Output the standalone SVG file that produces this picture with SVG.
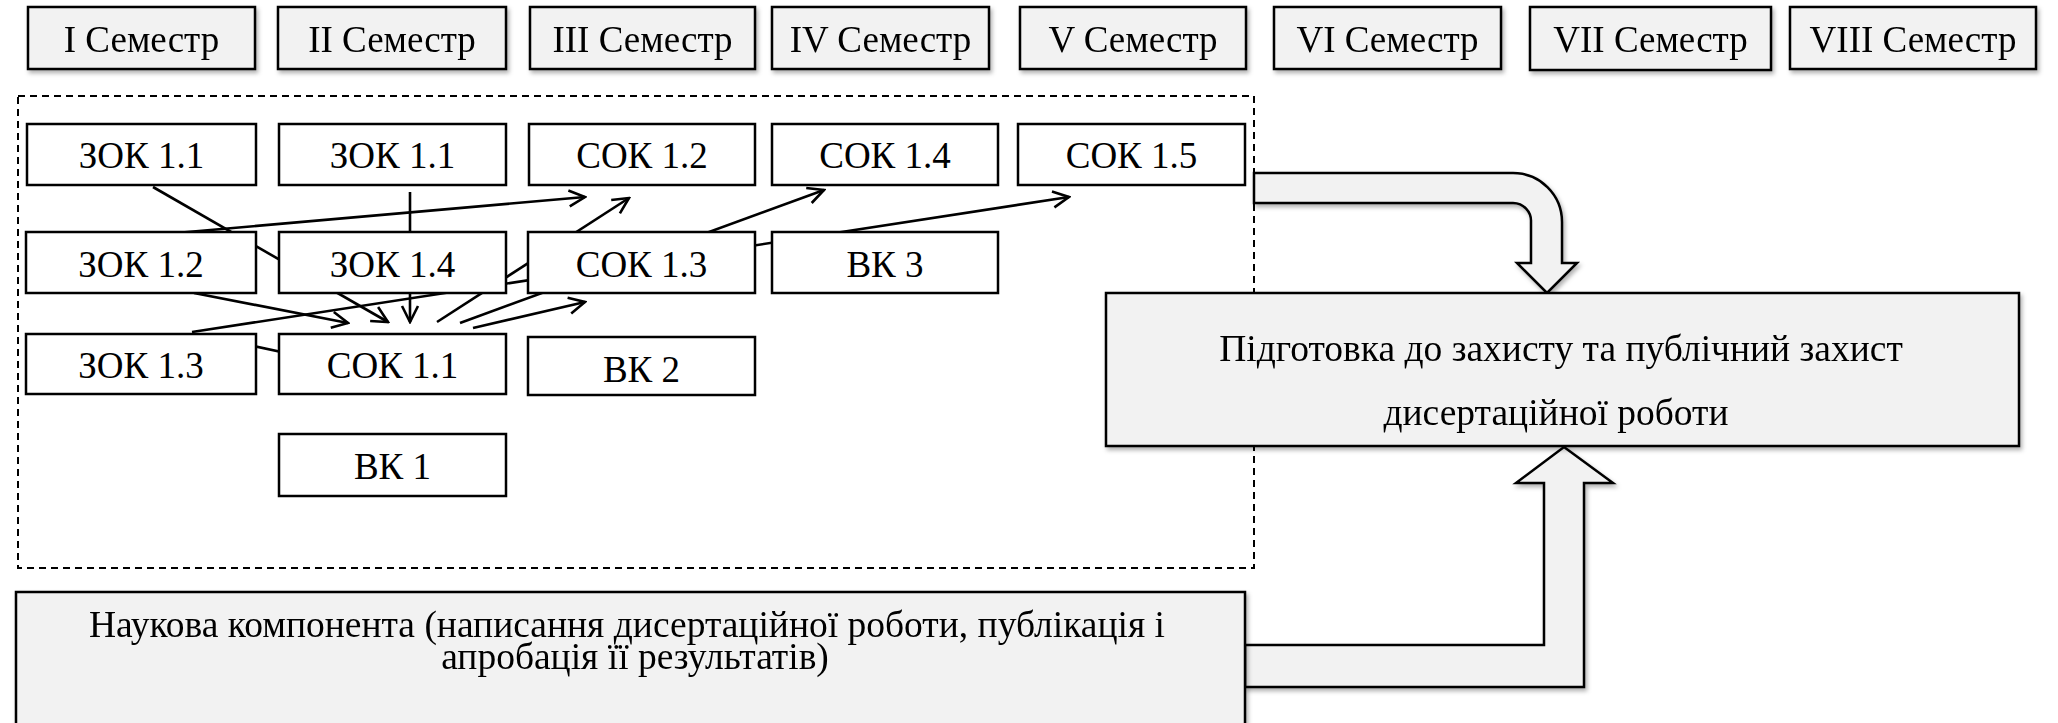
<svg xmlns="http://www.w3.org/2000/svg" width="2058" height="723" viewBox="0 0 2058 723">
<defs>
<style>
.sem rect{fill:#f2f2f2;stroke:#000;stroke-width:2.5}
.nd rect{fill:#fff;stroke:#000;stroke-width:2.5}
.big rect{fill:#f2f2f2;stroke:#000;stroke-width:2.5}
text{font-family:"Liberation Serif","Times New Roman",serif;font-size:37px;fill:#000;text-anchor:middle}
.big text{font-size:37.5px}
.cn line{stroke:#000;stroke-width:2.6;fill:none}
.blk{fill:#f2f2f2;stroke:#000;stroke-width:2.5;stroke-linejoin:miter}
.dash{fill:none;stroke:#000;stroke-width:2;stroke-dasharray:7 5}
</style>
<marker id="ah" markerUnits="userSpaceOnUse" viewBox="0 0 20 20" markerWidth="20" markerHeight="20" refX="18" refY="10" orient="auto">
<path d="M2,2 L18,10 L2,18" fill="none" stroke="#000" stroke-width="2.6" stroke-linejoin="miter"/>
</marker>
<filter id="sh" x="-10%" y="-10%" width="125%" height="140%">
<feDropShadow dx="2" dy="3" stdDeviation="2" flood-color="#000" flood-opacity="0.3"/>
</filter>
</defs>

<rect width="2058" height="723" fill="#fff"/>

<g id="semesters" filter="url(#sh)">
<g id="sem1" class="sem"><rect x="28" y="7" width="227" height="62"/><text x="141.5" y="52">I Семестр</text></g>
<g id="sem2" class="sem"><rect x="278" y="7" width="228" height="62"/><text x="392" y="52">II Семестр</text></g>
<g id="sem3" class="sem"><rect x="530" y="7" width="225" height="62"/><text x="642.5" y="52">III Семестр</text></g>
<g id="sem4" class="sem"><rect x="772" y="7" width="217" height="62"/><text x="880.5" y="52">IV Семестр</text></g>
<g id="sem5" class="sem"><rect x="1020" y="7" width="226" height="62"/><text x="1133" y="52">V Семестр</text></g>
<g id="sem6" class="sem"><rect x="1274" y="7" width="227" height="62"/><text x="1387.5" y="52">VI Семестр</text></g>
<g id="sem7" class="sem"><rect x="1530" y="7" width="241" height="63"/><text x="1650.5" y="52">VII Семестр</text></g>
<g id="sem8" class="sem"><rect x="1790" y="7" width="246" height="62"/><text x="1913" y="52">VIII Семестр</text></g>
</g>

<rect id="frame" class="dash" x="18" y="96" width="1236" height="472"/>

<g id="block-arrows" filter="url(#sh)">
<path id="arrow-top" class="blk" d="M1254,173 L1513,173 A49,49 0 0 1 1562,222 L1562,263 L1577,263 L1547,293 L1517,263 L1531,263 L1531,222 A18,18 0 0 0 1513,203 L1254,203 Z"/>
<path id="arrow-bottom" class="blk" d="M1245,645 L1544,645 L1544,483 L1516,483 L1564,447 L1613,483 L1584,483 L1584,687 L1245,687 Z"/>
</g>

<g id="connectors" class="cn">
<line x1="153" y1="187" x2="388" y2="322" marker-end="url(#ah)"/>
<line x1="176" y1="233" x2="585" y2="197" marker-end="url(#ah)"/>
<line x1="410" y1="192" x2="410" y2="322" marker-end="url(#ah)"/>
<line x1="194" y1="293" x2="348" y2="323" marker-end="url(#ah)"/>
<line x1="192" y1="332" x2="1069" y2="197" marker-end="url(#ah)"/>
<line x1="230" y1="341" x2="300" y2="356"/>
<line x1="437" y1="322" x2="629" y2="198" marker-end="url(#ah)"/>
<line x1="473" y1="328" x2="585" y2="302" marker-end="url(#ah)"/>
<line x1="460" y1="323" x2="824" y2="190" marker-end="url(#ah)"/>
</g>

<g id="nodes">
<g id="zok11a" class="nd"><rect x="27" y="124" width="229" height="61"/><text x="141.5" y="168">ЗОК 1.1</text></g>
<g id="zok11b" class="nd"><rect x="279" y="124" width="227" height="61"/><text x="392.5" y="168">ЗОК 1.1</text></g>
<g id="sok12" class="nd"><rect x="529" y="124" width="226" height="61"/><text x="642" y="168">СОК 1.2</text></g>
<g id="sok14" class="nd"><rect x="772" y="124" width="226" height="61"/><text x="885" y="168">СОК 1.4</text></g>
<g id="sok15" class="nd"><rect x="1018" y="124" width="227" height="61"/><text x="1131.5" y="168">СОК 1.5</text></g>
<g id="zok12" class="nd"><rect x="26" y="232" width="230" height="61"/><text x="141" y="277">ЗОК 1.2</text></g>
<g id="zok14" class="nd"><rect x="279" y="232" width="227" height="61"/><text x="392.5" y="277">ЗОК 1.4</text></g>
<g id="sok13" class="nd"><rect x="528" y="232" width="227" height="61"/><text x="641.5" y="277">СОК 1.3</text></g>
<g id="vk3" class="nd"><rect x="772" y="232" width="226" height="61"/><text x="885" y="277">ВК 3</text></g>
<g id="zok13" class="nd"><rect x="26" y="334" width="230" height="60"/><text x="141" y="378">ЗОК 1.3</text></g>
<g id="sok11" class="nd"><rect x="279" y="334" width="227" height="60"/><text x="392.5" y="378">СОК 1.1</text></g>
<g id="vk2" class="nd"><rect x="528" y="337" width="227" height="58"/><text x="641.5" y="382">ВК 2</text></g>
<g id="vk1" class="nd"><rect x="279" y="434" width="227" height="62"/><text x="392.5" y="479">ВК 1</text></g>
</g>

<g id="defense" class="big" filter="url(#sh)">
<rect x="1106" y="293" width="913" height="153"/>
<text x="1561" y="361">Підготовка до захисту та публічний захист</text>
<text x="1556" y="425">дисертаційної роботи</text>
</g>

<g id="science" class="big" filter="url(#sh)">
<rect x="16" y="592" width="1229" height="145"/>
<text x="627" y="637">Наукова компонента (написання дисертаційної роботи, публікація і</text>
<text x="635" y="669">апробація її результатів)</text>
</g>
</svg>
